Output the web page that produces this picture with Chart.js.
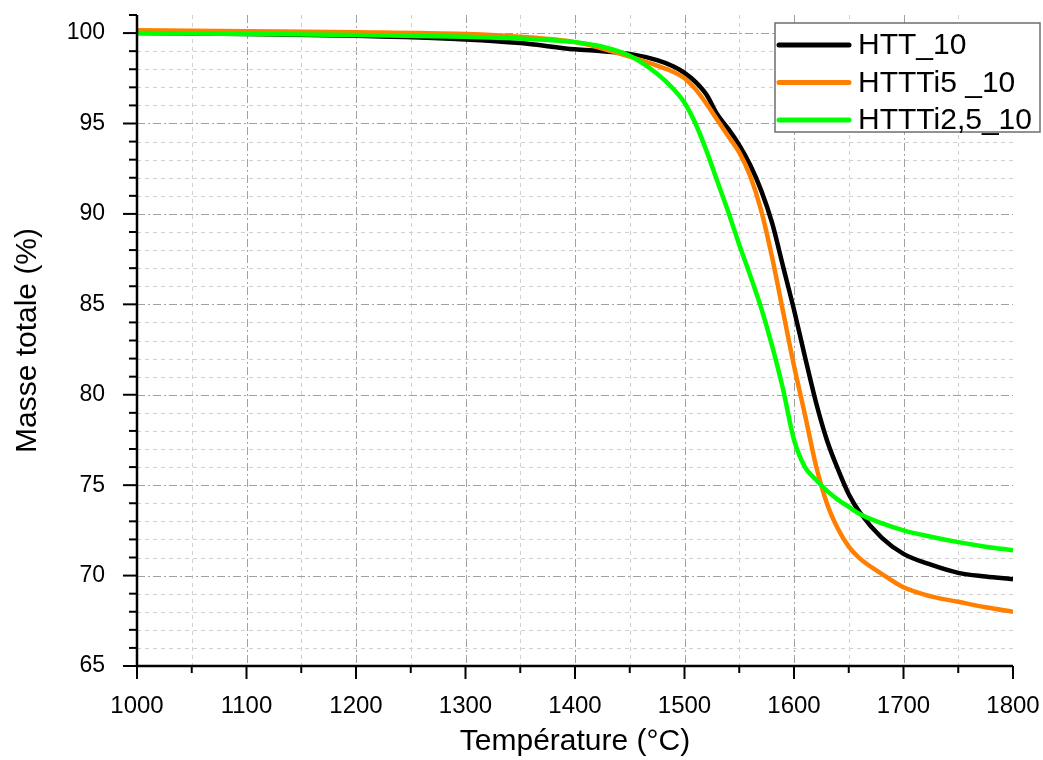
<!DOCTYPE html>
<html>
<head>
<meta charset="utf-8">
<script src="https://cdn.jsdelivr.net/npm/chart.js@4/dist/chart.umd.min.js"></script>
<style>
  html, body { margin: 0; padding: 0; background: #fff; }
  #wrap { width: 1043px; height: 760px; }
</style>
</head>
<body>
<div id="wrap"><canvas id="tga"></canvas></div>
<script>
// temperature (°C) shared by the three curves
var temperatures = [1000, 1100, 1200, 1300, 1350, 1400, 1425, 1450, 1475, 1490, 1500, 1510, 1520, 1530, 1540,
    1550, 1560, 1570, 1580, 1590, 1600, 1610, 1620, 1630, 1640, 1650, 1660, 1680, 1700, 1725, 1750, 1775, 1800];

// total mass (%)
var htt10 = [100.0, 99.95, 99.85, 99.65, 99.45, 99.1, 99.0, 98.85, 98.5, 98.15, 97.8, 97.3, 96.6, 95.5, 94.7,
    93.8, 92.7, 91.3, 89.5, 87.1, 84.7, 82.1, 79.6, 77.5, 75.9, 74.5, 73.5, 72.1, 71.2, 70.6, 70.15, 69.95, 69.8];
var htttiFive10 = [100.15, 100.1, 100.05, 99.95, 99.8, 99.5, 99.15, 98.7, 98.2, 97.85, 97.5, 96.9, 96.1, 95.2, 94.3,
    93.4, 92.1, 90.2, 87.6, 84.6, 81.6, 78.9, 76.1, 74.0, 72.6, 71.6, 70.95, 70.1, 69.35, 68.85, 68.55, 68.25, 68.0];
var htttiTwoFive10 = [100.0, 99.95, 99.9, 99.8, 99.7, 99.5, 99.25, 98.75, 97.75, 96.9, 96.15, 95.0, 93.5, 91.8, 90.1,
    88.3, 86.6, 84.8, 82.7, 80.3, 77.5, 76.0, 75.3, 74.7, 74.2, 73.8, 73.4, 72.9, 72.5, 72.15, 71.85, 71.6, 71.4];

var seriesNames = ['HTT_10', 'HTTTi5 _10', 'HTTTi2,5_10'];
var seriesColors = ['#000000', '#ff8000', '#00ff00'];

var FONT = '"Liberation Sans", Arial, sans-serif';

function points(values) {
    return temperatures.map(function (t, i) { return {x: t, y: values[i]}; });
}

function lineSet(i, values, order) {
    return {
        label: seriesNames[i],
        data: points(values),
        borderColor: seriesColors[i],
        backgroundColor: seriesColors[i],
        borderWidth: 4.5,
        pointRadius: 0,
        cubicInterpolationMode: 'monotone',
        order: order
    };
}

// drop the label overhang padding so the plot box sits where the layout padding says
function noOverhang(s) {
    s.paddingTop = 0; s.paddingBottom = 0; s.paddingLeft = 0; s.paddingRight = 0;
}

// origin-like grid, axes, tick marks and framed legend
var originLook = {
    id: 'originLook',
    beforeDatasetsDraw: function (chart) {
        var ctx = chart.ctx, a = chart.chartArea, x = chart.scales.x, y = chart.scales.y;
        ctx.save();
        ctx.lineWidth = 1;
        x.ticks.forEach(function (t) {
            if (t.value === x.min || t.value === x.max) return;
            var px = Math.round(x.getPixelForValue(t.value)) + 0.5;
            var major = t.value % 100 === 0;
            ctx.strokeStyle = major ? '#a0a0a0' : '#d0d0d0';
            ctx.setLineDash(major ? [8, 3, 2, 3] : [4, 4]);
            ctx.beginPath(); ctx.moveTo(px, a.top); ctx.lineTo(px, a.bottom); ctx.stroke();
        });
        y.ticks.forEach(function (t) {
            if (t.value === y.min || t.value === y.max) return;
            var py = Math.round(y.getPixelForValue(t.value)) + 0.5;
            var major = t.value % 5 === 0;
            ctx.strokeStyle = major ? '#a0a0a0' : '#d0d0d0';
            ctx.setLineDash(major ? [8, 3, 2, 3] : [4, 4]);
            ctx.beginPath(); ctx.moveTo(a.left, py); ctx.lineTo(a.right, py); ctx.stroke();
        });
        ctx.restore();
    },
    afterDraw: function (chart) {
        var ctx = chart.ctx, a = chart.chartArea, x = chart.scales.x, y = chart.scales.y;
        ctx.save();
        ctx.strokeStyle = '#000';
        ctx.lineWidth = 2.5;
        ctx.setLineDash([]);
        ctx.beginPath();
        ctx.moveTo(a.left, a.top); ctx.lineTo(a.left, a.bottom); ctx.lineTo(a.right, a.bottom);
        ctx.stroke();
        ctx.lineWidth = 2;
        x.ticks.forEach(function (t) {
            var px = x.getPixelForValue(t.value);
            var len = t.value % 100 === 0 ? 13 : 7;
            ctx.beginPath(); ctx.moveTo(px, a.bottom); ctx.lineTo(px, a.bottom + len); ctx.stroke();
        });
        y.ticks.forEach(function (t) {
            var py = y.getPixelForValue(t.value);
            var len = t.value % 5 === 0 ? 14 : 8;
            ctx.beginPath(); ctx.moveTo(a.left, py); ctx.lineTo(a.left - len, py); ctx.stroke();
        });

        // legend box
        var bx = a.right - 238, by = a.top + 8, bw = 265, bh = 109;
        ctx.fillStyle = '#fff';
        ctx.fillRect(bx, by, bw, bh);
        ctx.strokeStyle = '#6e6e6e';
        ctx.lineWidth = 1.5;
        ctx.strokeRect(bx, by, bw, bh);
        ctx.font = '30px ' + FONT;
        ctx.textBaseline = 'middle';
        ctx.textAlign = 'left';
        chart.data.datasets.forEach(function (ds, i) {
            var ry = by + 22 + i * 37.5;
            ctx.strokeStyle = ds.borderColor;
            ctx.lineWidth = 5;
            ctx.lineCap = 'round';
            ctx.beginPath(); ctx.moveTo(bx + 4, ry); ctx.lineTo(bx + 74, ry); ctx.stroke();
            ctx.fillStyle = '#000';
            ctx.fillText(ds.label, bx + 83, ry + 1);
        });
        ctx.restore();
    }
};

new Chart(document.getElementById('tga'), {
    type: 'line',
    data: {
        datasets: [
            lineSet(0, htt10, 3),
            lineSet(1, htttiFive10, 2),
            lineSet(2, htttiTwoFive10, 1)
        ]
    },
    options: {
        responsive: true,
        maintainAspectRatio: false,
        animation: false,
        layout: {padding: {top: 15, right: 30, left: 0, bottom: 0}},
        plugins: {legend: {display: false}, tooltip: {enabled: false}},
        scales: {
            x: {
                type: 'linear',
                min: 1000,
                max: 1800,
                grid: {display: false},
                border: {display: false},
                afterFit: function (s) { s.height = 94; noOverhang(s); },
                title: {
                    display: true,
                    text: 'Température (°C)',
                    color: '#000',
                    font: {family: FONT, size: 30},
                    padding: {top: 0, bottom: 0}
                },
                ticks: {
                    stepSize: 50,
                    autoSkip: false,
                    maxRotation: 0,
                    padding: 18,
                    color: '#000',
                    font: {family: FONT, size: 24},
                    callback: function (v) { return v % 100 === 0 ? String(v) : ''; }
                }
            },
            y: {
                min: 65,
                max: 101,
                grid: {display: false},
                border: {display: false},
                afterFit: function (s) { s.width = 137; noOverhang(s); },
                title: {
                    display: true,
                    text: 'Masse totale (%)',
                    color: '#000',
                    font: {family: FONT, size: 30},
                    padding: {top: 10, bottom: 0}
                },
                ticks: {
                    stepSize: 1,
                    autoSkip: false,
                    padding: 24,
                    color: '#000',
                    font: {family: FONT, size: 23},
                    callback: function (v) { return v % 5 === 0 ? String(v) : ''; }
                }
            }
        }
    },
    plugins: [originLook]
});
</script>
</body>
</html>
